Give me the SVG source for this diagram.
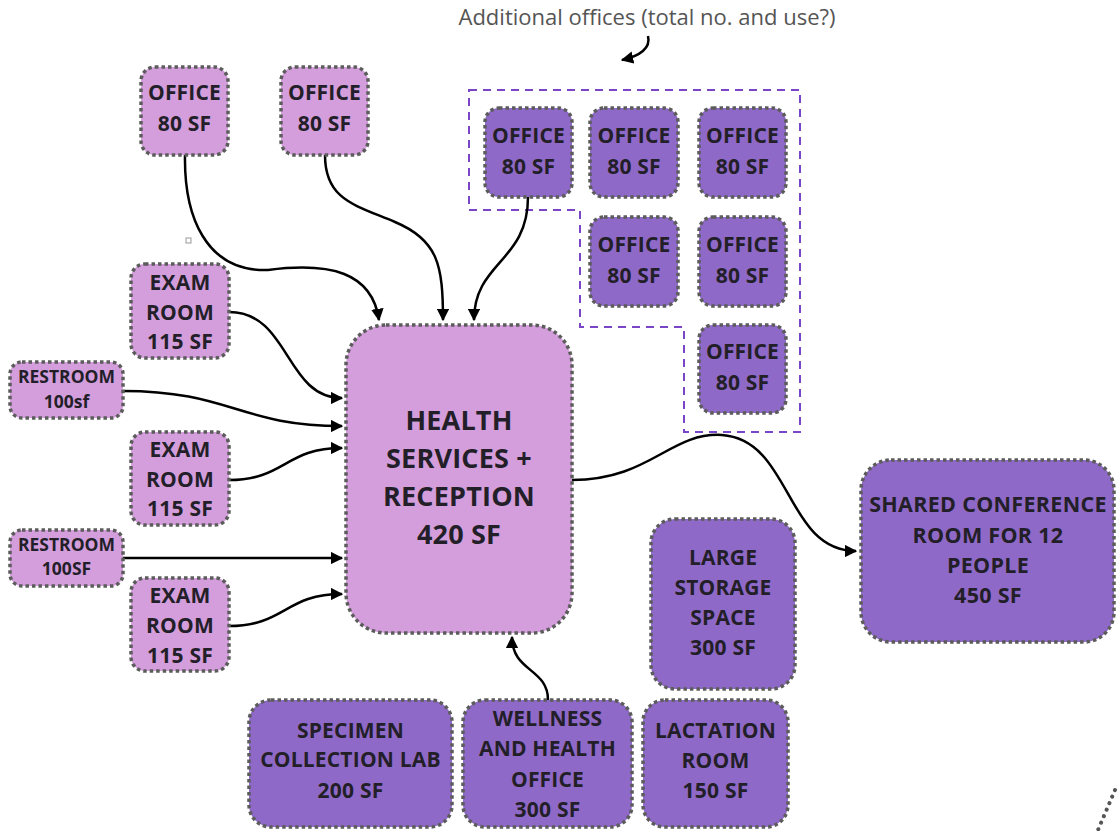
<svg xmlns="http://www.w3.org/2000/svg" width="1117" height="831" viewBox="0 0 1117 831">
<style>
.n rect{stroke:#5c5c5c;stroke-width:3.5;stroke-dasharray:3.5 3;}
.l rect{fill:#d49edc;}
.d rect{fill:#8f69c7;}
.n text{font-family:"Open Sans","Liberation Sans",sans-serif;font-weight:700;fill:#231f29;text-anchor:middle;font-size:21px;letter-spacing:0.2px;}
.n text.s{font-size:17.5px;letter-spacing:0;}
.n text.b{font-size:27px;letter-spacing:0.2px;}
.n text.m{font-size:21.5px;letter-spacing:0.3px;}
.c path{fill:none;stroke:#000;stroke-width:2.5;}
.ann{font-family:"Open Sans","Liberation Sans",sans-serif;font-size:22px;fill:#555;text-anchor:middle;}
</style>
<defs>
<marker id="ah" viewBox="0 0 10 10" refX="9" refY="5" markerWidth="5" markerHeight="5" orient="auto" markerUnits="strokeWidth">
<path d="M0,0 L10,5 L0,10 z" fill="#000"/>
</marker>
</defs>
<rect width="1117" height="831" fill="#fff"/>
<text class="ann" x="647" y="25">Additional offices (total no. and use?)</text>
<path d="M469,90 H800 V432 H684 V327 H580 V210 H469 Z" fill="none" stroke="#7b45c8" stroke-width="2" stroke-dasharray="8 6"/>
<rect x="186" y="238" width="5" height="5" fill="none" stroke="#999" stroke-width="1"/>
<path d="M1115,790 L1098,830" fill="none" stroke="#555" stroke-width="4" stroke-dasharray="0.1 7" stroke-linecap="round"/>

<g class="c">
<path d="M648,36 C651,48 640,56 622,60" marker-end="url(#ah)"/>
<path d="M185,155 C184,215 205,272 268,270 C330,262 372,272 379,320" marker-end="url(#ah)"/>
<path d="M325,155 C325,200 355,205 395,222 C438,240 443,265 443,320" marker-end="url(#ah)"/>
<path d="M528,197 C528,262 474,262 474,320" marker-end="url(#ah)"/>
<path d="M229,312 C290,312 285,398 342,398" marker-end="url(#ah)"/>
<path d="M123,391 C230,391 240,426 342,426" marker-end="url(#ah)"/>
<path d="M229,480 C285,480 285,448 342,448" marker-end="url(#ah)"/>
<path d="M123,558 L342,558" marker-end="url(#ah)"/>
<path d="M229,626 C285,626 285,594 342,594" marker-end="url(#ah)"/>
<path d="M572,480 C650,480 670,432 722,435 C792,440 785,551 856,551" marker-end="url(#ah)"/>
<path d="M548,700 C548,668 512,672 512,637" marker-end="url(#ah)"/>
</g>

<g id="office-a" class="n l"><rect x="141" y="67" width="87" height="88" rx="14"/><text x="184.5" y="100">OFFICE</text><text x="184.5" y="131">80 SF</text></g>
<g id="office-b" class="n l"><rect x="281" y="67" width="87" height="88" rx="14"/><text x="324.5" y="100">OFFICE</text><text x="324.5" y="131">80 SF</text></g>

<g id="office-1" class="n d"><rect x="485" y="108" width="87" height="89" rx="14"/><text x="528.5" y="143">OFFICE</text><text x="528.5" y="174">80 SF</text></g>
<g id="office-2" class="n d"><rect x="590" y="108" width="88" height="89" rx="14"/><text x="634" y="143">OFFICE</text><text x="634" y="174">80 SF</text></g>
<g id="office-3" class="n d"><rect x="699" y="108" width="87" height="89" rx="14"/><text x="742.5" y="143">OFFICE</text><text x="742.5" y="174">80 SF</text></g>
<g id="office-4" class="n d"><rect x="590" y="217" width="88" height="89" rx="14"/><text x="634" y="252">OFFICE</text><text x="634" y="283">80 SF</text></g>
<g id="office-5" class="n d"><rect x="699" y="217" width="87" height="89" rx="14"/><text x="742.5" y="252">OFFICE</text><text x="742.5" y="283">80 SF</text></g>
<g id="office-6" class="n d"><rect x="699" y="325" width="87" height="88" rx="14"/><text x="742.5" y="359">OFFICE</text><text x="742.5" y="390">80 SF</text></g>

<g id="exam-1" class="n l"><rect x="131" y="264" width="98" height="94" rx="14"/><text x="180" y="290">EXAM</text><text x="180" y="320">ROOM</text><text x="180" y="349">115 SF</text></g>
<g id="restroom-1" class="n l"><rect x="10" y="362" width="113" height="56" rx="12"/><text class="s" x="66.5" y="383">RESTROOM</text><text class="s" x="66.5" y="408">100sf</text></g>
<g id="exam-2" class="n l"><rect x="131" y="432" width="98" height="93" rx="14"/><text x="180" y="457">EXAM</text><text x="180" y="487">ROOM</text><text x="180" y="516">115 SF</text></g>
<g id="restroom-2" class="n l"><rect x="10" y="530" width="113" height="56" rx="12"/><text class="s" x="66.5" y="551">RESTROOM</text><text class="s" x="66.5" y="575">100SF</text></g>
<g id="exam-3" class="n l"><rect x="131" y="578" width="98" height="93" rx="14"/><text x="180" y="603">EXAM</text><text x="180" y="633">ROOM</text><text x="180" y="663">115 SF</text></g>

<g id="health" class="n l"><rect x="346" y="325" width="226" height="308" rx="40"/><text class="b" x="459" y="430">HEALTH</text><text class="b" x="459" y="468">SERVICES +</text><text class="b" x="459" y="506">RECEPTION</text><text class="b" x="459" y="544">420 SF</text></g>

<g id="conference" class="n d"><rect x="861" y="460" width="253" height="182" rx="30"/><text class="m" x="988" y="512">SHARED CONFERENCE</text><text class="m" x="988" y="543">ROOM FOR 12</text><text class="m" x="988" y="573">PEOPLE</text><text class="m" x="988" y="603">450 SF</text></g>
<g id="storage" class="n d"><rect x="651" y="519" width="144" height="170" rx="24"/><text x="723" y="565">LARGE</text><text x="723" y="595">STORAGE</text><text x="723" y="625">SPACE</text><text x="723" y="655">300 SF</text></g>
<g id="specimen" class="n d"><rect x="249" y="700" width="203" height="127" rx="22"/><text x="350.5" y="738">SPECIMEN</text><text x="350.5" y="767">COLLECTION LAB</text><text x="350.5" y="798">200 SF</text></g>
<g id="wellness" class="n d"><rect x="463" y="700" width="169" height="127" rx="22"/><text x="547.5" y="726">WELLNESS</text><text x="547.5" y="756">AND HEALTH</text><text x="547.5" y="787">OFFICE</text><text x="547.5" y="817">300 SF</text></g>
<g id="lactation" class="n d"><rect x="643" y="700" width="145" height="127" rx="22"/><text x="715.5" y="738">LACTATION</text><text x="715.5" y="768">ROOM</text><text x="715.5" y="798">150 SF</text></g>
</svg>
